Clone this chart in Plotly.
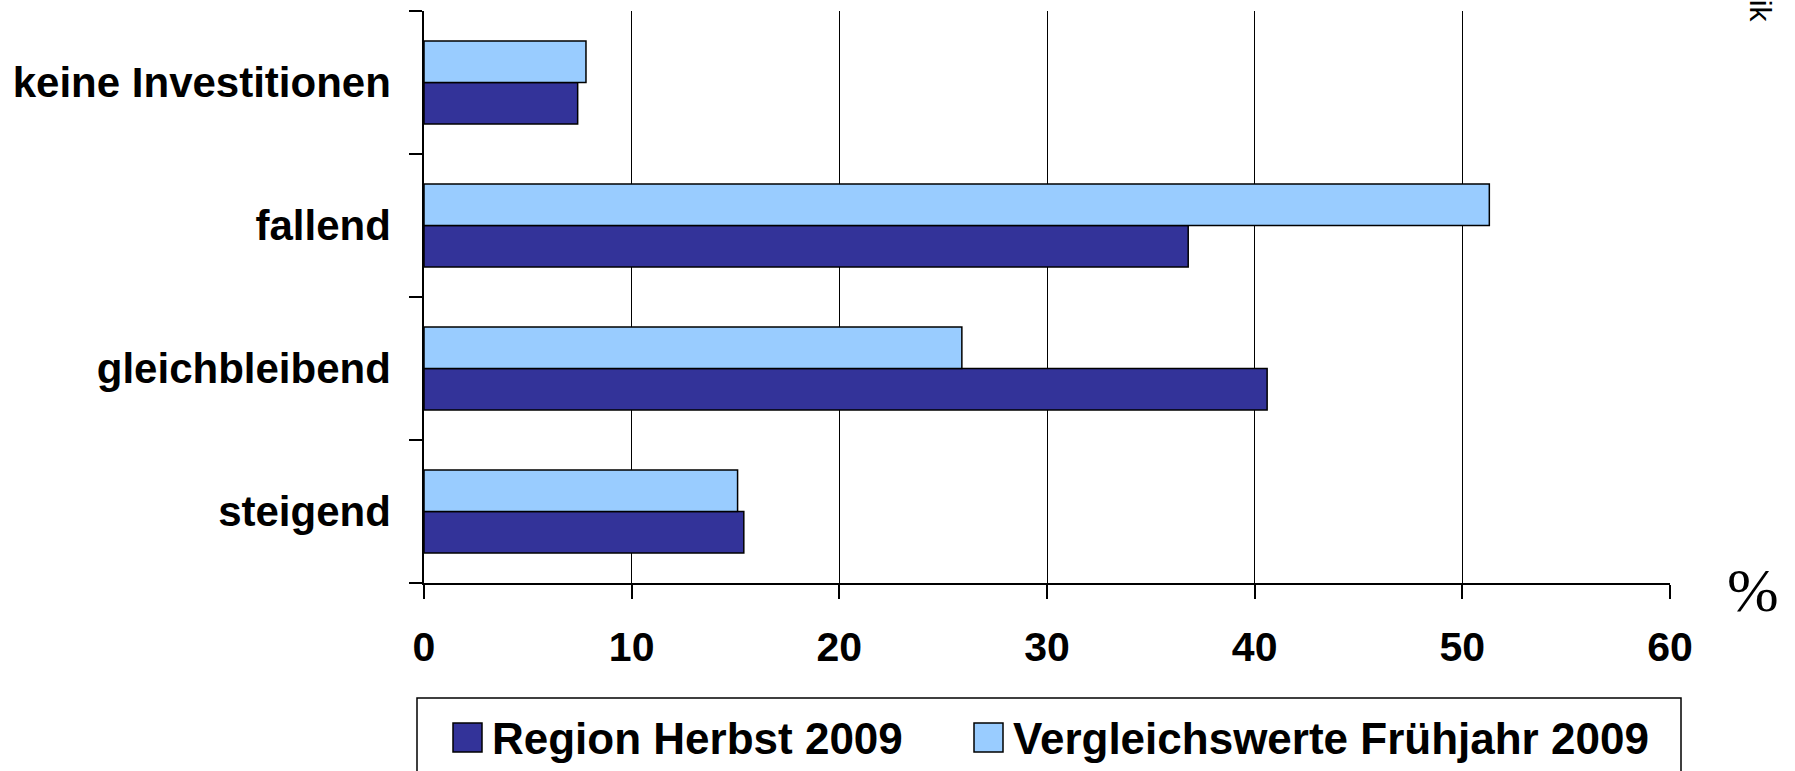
import plotly.graph_objects as go

# Kategorien von unten nach oben
categories = ['steigend', 'gleichbleibend', 'fallend', 'keine Investitionen']
region_herbst_2009 = [15.4, 40.6, 36.8, 7.4]
vergleich_fruehjahr_2009 = [15.1, 25.9, 51.3, 7.8]
series_names = ['Region Herbst 2009', 'Vergleichswerte Frühjahr 2009']
x_ticks = [0, 10, 20, 30, 40, 50, 60]

DARK = '#333399'
LIGHT = '#99CCFF'
FONT = 'Liberation Sans, Arial, sans-serif'

W, H = 1795, 771
L, R, T, B = 424, 125, 11, 188
PW, PH = W - L - R, H - T - B


def px(x, y):
    # Pixelposition -> Paper-Koordinaten
    return (x - L) / PW, (H - B - y) / PH


fig = go.Figure()
fig.add_trace(go.Bar(
    y=categories, x=region_herbst_2009, orientation='h', name=series_names[0],
    marker=dict(color=DARK, line=dict(color='black', width=1.5)),
    showlegend=False
))
fig.add_trace(go.Bar(
    y=categories, x=vergleich_fruehjahr_2009, orientation='h', name=series_names[1],
    marker=dict(color=LIGHT, line=dict(color='black', width=1.5)),
    showlegend=False
))

# Legende von Hand (grosse Symbole wie im Original)
shapes = []
x0, y0 = px(417, 698)
x1, y1 = px(1681, 800)
shapes.append(dict(type='rect', xref='paper', yref='paper', x0=x0, y0=y0, x1=x1, y1=y1,
                   line=dict(color='black', width=1.5), fillcolor='white', layer='above'))
legend_items = [(series_names[0], DARK, 453), (series_names[1], LIGHT, 974)]
annotations = []
for name, color, sx in legend_items:
    a0, b0 = px(sx, 723)
    a1, b1 = px(sx + 29, 752)
    shapes.append(dict(type='rect', xref='paper', yref='paper', x0=a0, y0=b0, x1=a1, y1=b1,
                       line=dict(color='black', width=1.5), fillcolor=color, layer='above'))
    tx, ty = px(sx + 37, 738)
    annotations.append(dict(xref='paper', yref='paper', x=tx, y=ty, text=name, showarrow=False,
                            xanchor='left', yanchor='middle',
                            font=dict(family=FONT, size=44, color='black', weight='bold')))

# Prozentzeichen rechts unten
ax, ay = px(1753, 590)
annotations.append(dict(xref='paper', yref='paper', x=ax, y=ay, text='%', showarrow=False,
                        xanchor='center', yanchor='middle',
                        font=dict(family='Liberation Serif, Times New Roman, serif', size=62, color='black')))
# abgeschnittener gedrehter Text oben rechts (wie im Original nur "ik" sichtbar)
gx, gy = px(1760, 24)
annotations.append(dict(xref='paper', yref='paper', x=gx, y=gy, text='Grafik', showarrow=False,
                        textangle=90, xanchor='center', yanchor='bottom',
                        font=dict(family=FONT, size=30, color='black')))

fig.update_layout(
    width=W, height=H,
    margin=dict(l=L, r=R, t=T, b=B, pad=0),
    barmode='group', bargap=0.42, bargroupgap=0,
    paper_bgcolor='white', plot_bgcolor='white',
    shapes=shapes, annotations=annotations,
    xaxis=dict(range=[0, 60], tickvals=x_ticks, showgrid=True, gridcolor='black', gridwidth=1.3,
               showline=True, linecolor='black', linewidth=1.5, zeroline=False,
               ticks='outside', ticklen=14, tickcolor='black', tickwidth=1.5,
               ticklabelstandoff=13,
               tickfont=dict(family=FONT, size=41, color='black', weight='bold')),
    yaxis=dict(range=[-0.5, 3.5], showgrid=False, showline=True, linecolor='black', linewidth=1.5,
               ticks='outside', tickson='boundaries', ticklen=13, tickcolor='black', tickwidth=1.5,
               ticklabelstandoff=23,
               tickfont=dict(family=FONT, size=42, color='black', weight='bold')),
)

# Seitenrand des Browsers entfernen, damit die Grafik bei (0,0) beginnt
fig.write_html("out.html", config={'displayModeBar': False},
               post_script="document.body.style.margin='0px';")
